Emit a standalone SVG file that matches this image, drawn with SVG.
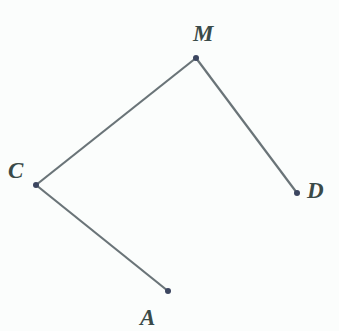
<svg xmlns="http://www.w3.org/2000/svg" width="339" height="331" viewBox="0 0 339 331">
<style>
.lbl{font-family:"Liberation Serif",serif;font-style:italic;font-weight:bold;font-size:23px;fill:#3a4a48}
.seg{stroke:#6a7478;stroke-width:2.2;fill:none}
.pt{fill:#3c4660}
</style>
<rect width="339" height="331" fill="#fbfdfc"/>
<g id="connectors">
<line class="seg" x1="36" y1="185" x2="196" y2="58"/>
<line class="seg" x1="196" y1="58" x2="297" y2="193"/>
<line class="seg" x1="36" y1="185" x2="168" y2="291" stroke="#6a7088"/>
</g>
<g id="M"><circle class="pt" cx="196" cy="58" r="3"/><text class="lbl" x="193" y="41">M</text></g>
<g id="C"><circle class="pt" cx="36" cy="185" r="3"/><text class="lbl" x="8" y="178">C</text></g>
<g id="D"><circle class="pt" cx="297" cy="193" r="3"/><text class="lbl" x="307" y="198">D</text></g>
<g id="A"><circle class="pt" cx="168" cy="291" r="3"/><text class="lbl" x="140" y="325">A</text></g>
</svg>
